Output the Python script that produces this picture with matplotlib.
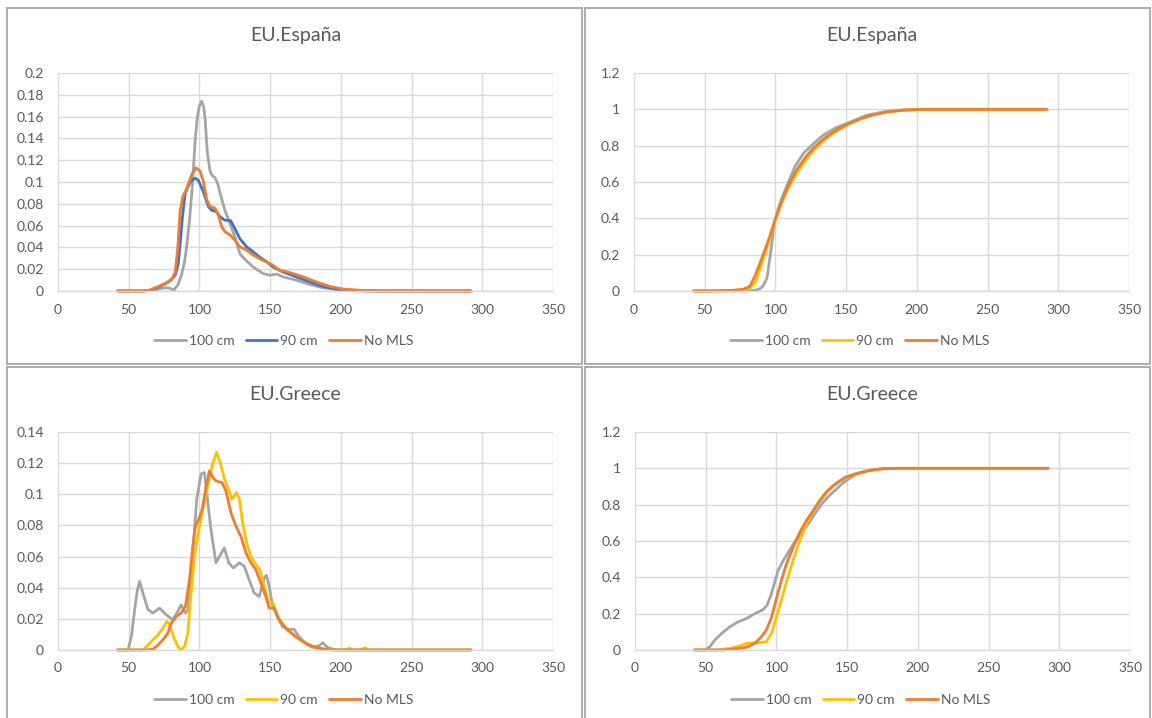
import matplotlib
matplotlib.use("Agg")
import matplotlib.pyplot as plt
from matplotlib.patches import Rectangle
from matplotlib.ticker import MultipleLocator, FuncFormatter

# ---------------- data ----------------
series_names = ["100 cm", "90 cm", "No MLS"]
x_ticks = [0, 50, 100, 150, 200, 250, 300, 350]
titles = ["EU.España", "EU.España", "EU.Greece", "EU.Greece"]

# EU.España – density
es_pdf_100 = [(42, 0), (60, 0), (68, 0.001), (72, 0.002), (76, 0.003), (79, 0.0025), (82, 0.001),
              (85, 0.006), (87.6, 0.016), (89.5, 0.027), (91, 0.041), (93, 0.065), (94.6, 0.09),
              (96, 0.117), (97, 0.139), (98.6, 0.16), (100, 0.17), (101.6, 0.174), (103, 0.169),
              (104, 0.158), (105.6, 0.127), (107.5, 0.11), (109, 0.106), (111, 0.104), (113, 0.098),
              (114.6, 0.09), (118, 0.074), (121.6, 0.062), (125, 0.05), (128.6, 0.034), (133, 0.028),
              (138, 0.022), (145, 0.016), (150, 0.0145), (154.5, 0.0155), (159, 0.013), (168.5, 0.010),
              (178, 0.006), (187, 0.003), (199, 0.001), (215, 0.0002), (292, 0)]
es_pdf_90 = [(42, 0), (60, 0), (65, 0.0005), (70, 0.003), (75, 0.006), (80, 0.01), (83, 0.015),
             (85, 0.025), (86.5, 0.045), (88, 0.068), (90, 0.09), (93.4, 0.1), (97, 0.1035),
             (99.3, 0.1015), (102.8, 0.091), (106.3, 0.0775), (108.7, 0.074), (111.7, 0.073),
             (114.6, 0.068), (118, 0.065), (122, 0.0646), (125, 0.0575), (128.6, 0.048),
             (133.3, 0.0406), (138, 0.036), (142.7, 0.031), (147.4, 0.027), (152, 0.022),
             (159, 0.0175), (168.5, 0.013), (178, 0.0083), (187, 0.0043), (196.7, 0.0018),
             (206, 0.0005), (220, 0), (292, 0)]
es_pdf_nomls = [(42, 0), (60, 0), (64, 0.0005), (70, 0.0037), (75.8, 0.0068), (80.5, 0.011),
                (82.9, 0.0175), (84.7, 0.04), (86.4, 0.074), (88.3, 0.0868), (91, 0.094),
                (94.6, 0.107), (97.7, 0.113), (100.5, 0.11), (102.8, 0.1006), (105.2, 0.0837),
                (107.5, 0.0775), (111, 0.076), (113.4, 0.0698), (115.7, 0.059), (118, 0.0545),
                (121.6, 0.0514), (125, 0.0468), (128.6, 0.0406), (133.3, 0.0375), (138, 0.033),
                (145, 0.028), (152, 0.0237), (156.8, 0.019), (163.8, 0.017), (173.2, 0.013),
                (182.6, 0.0083), (192, 0.0043), (201.5, 0.0018), (215.5, 0.0005), (230, 0), (292, 0)]

# EU.España – cumulative
es_cdf_100 = [(42, 0), (80, 0.001), (86, 0.004), (89, 0.012), (91.5, 0.03), (94.1, 0.073),
              (96.5, 0.207), (99.3, 0.372), (101.9, 0.45), (104.5, 0.51), (107.8, 0.573),
              (113.7, 0.683), (119.6, 0.756), (126.7, 0.81), (133.7, 0.857), (143, 0.9),
              (150, 0.921), (164.4, 0.967), (178.5, 0.989), (192.7, 0.998), (210, 1.0), (292, 1.0)]
es_cdf_90 = [(42, 0), (60, 0.001), (70, 0.003), (77, 0.007), (82, 0.018), (86, 0.05), (89, 0.12),
             (92.5, 0.2), (96, 0.29), (100, 0.39), (104.2, 0.48), (109, 0.565), (114.9, 0.645),
             (120.8, 0.715), (126.7, 0.772), (133.7, 0.826), (140.8, 0.868), (150.2, 0.912),
             (159.7, 0.945), (169, 0.969), (178.5, 0.985), (190, 0.995), (205, 1.0), (292, 1.0)]
es_cdf_nomls = [(42, 0), (60, 0.001), (70, 0.004), (77, 0.009), (81.8, 0.025), (85.4, 0.08),
                (88.9, 0.15), (92.5, 0.225), (96, 0.3), (100, 0.4), (104.2, 0.49), (109, 0.58),
                (114.9, 0.665), (120.8, 0.732), (126.7, 0.786), (133.7, 0.835), (140.8, 0.875),
                (150.2, 0.916), (159.7, 0.947), (169, 0.97), (178.5, 0.985), (190, 0.995),
                (205, 1.0), (292, 1.0)]

# EU.Greece – density
gr_pdf_100 = [(42, 0), (49.5, 0), (51.9, 0.0086), (54.2, 0.026), (56, 0.038), (57.7, 0.044),
              (60, 0.0366), (63.6, 0.026), (67.1, 0.0237), (71.8, 0.0269), (76.5, 0.0226),
              (81.2, 0.0194), (84.7, 0.0247), (87.1, 0.029), (90.1, 0.0237), (92, 0.026),
              (95.3, 0.062), (98.1, 0.097), (101.2, 0.113), (103.5, 0.114), (105.4, 0.099),
              (108.2, 0.077), (111.7, 0.056), (114.1, 0.06), (117.6, 0.0656), (120.7, 0.056),
              (124, 0.0527), (128.2, 0.056), (131.7, 0.0538), (135.2, 0.045), (138.7, 0.0366),
              (142.3, 0.0344), (145.8, 0.0462), (147.4, 0.048), (149.3, 0.041), (151.6, 0.029),
              (155.2, 0.0215), (158.7, 0.015), (163.4, 0.0133), (166.9, 0.0133), (170.4, 0.0086),
              (175.1, 0.0043), (179.8, 0.0017), (184.5, 0.0026), (187.3, 0.0047), (190.4, 0.0017),
              (196.2, 0), (292, 0)]
gr_pdf_90 = [(42, 0), (60, 0), (63.6, 0.0032), (67.1, 0.0065), (70.7, 0.0097), (74.2, 0.014),
             (77, 0.0183), (78.9, 0.016), (81.7, 0.0086), (84.7, 0.0022), (87.1, 0), (89.4, 0.002),
             (91.8, 0.0108), (94.1, 0.0366), (96.5, 0.06), (99.5, 0.077), (102.3, 0.09),
             (105.9, 0.105), (109.4, 0.12), (112.2, 0.127), (114.8, 0.12), (117.6, 0.11),
             (120.7, 0.103), (123, 0.097), (126.3, 0.101), (128.2, 0.097), (130.5, 0.082),
             (133.3, 0.069), (136.4, 0.06), (139.9, 0.055), (142.7, 0.0516), (145.8, 0.041),
             (148.8, 0.031), (152.1, 0.03), (155.2, 0.0215), (161, 0.014), (168, 0.0086),
             (177.5, 0.0032), (187, 0.0004), (200, 0), (203, 0), (206, 0.0012), (209, 0),
             (214, 0), (217, 0.0015), (220, 0), (292, 0)]
gr_pdf_nomls = [(42, 0), (62.4, 0), (67.1, 0.0005), (70.7, 0.0032), (74.2, 0.0065), (77.7, 0.0108),
                (80, 0.0172), (83.6, 0.0215), (87.1, 0.0237), (90.1, 0.028), (93, 0.045),
                (95.3, 0.0667), (97.2, 0.0796), (99.5, 0.084), (101.9, 0.09), (104.7, 0.105),
                (107, 0.115), (109.4, 0.111), (111.7, 0.1086), (116, 0.1075), (118.8, 0.102),
                (122.3, 0.088), (125.8, 0.0796), (129.3, 0.073), (132.9, 0.0624), (136.4, 0.056),
                (139.9, 0.0516), (143.4, 0.043), (146.9, 0.0344), (149.3, 0.0269), (152.8, 0.0269),
                (156.3, 0.0194), (161, 0.014), (168, 0.0086), (175.1, 0.0043), (182.2, 0.0015),
                (191.5, 0.0002), (200, 0), (292, 0)]

# EU.Greece – cumulative
gr_cdf_100 = [(42, 0), (49.4, 0), (52.9, 0.018), (56.5, 0.055), (61.2, 0.091), (67.1, 0.128),
              (72.9, 0.155), (78.8, 0.173), (84.7, 0.2), (90.6, 0.223), (93.4, 0.246), (96.5, 0.31),
              (98.8, 0.374), (101.2, 0.438), (104.7, 0.49), (109.4, 0.55), (114.1, 0.608),
              (118.8, 0.655), (123.5, 0.705), (128.2, 0.762), (132.9, 0.812), (137.6, 0.852),
              (142.4, 0.885), (147.1, 0.92), (151.8, 0.945), (156.5, 0.968), (165.9, 0.988),
              (175.3, 0.998), (185, 1.0), (292, 1.0)]
gr_cdf_90 = [(42, 0), (57.6, 0), (67.1, 0.009), (74.1, 0.022), (78.8, 0.036), (83.5, 0.04),
             (88.2, 0.04), (92.9, 0.046), (96.5, 0.091), (100, 0.18), (103.5, 0.274), (107.1, 0.374),
             (111.8, 0.493), (116.5, 0.602), (121.2, 0.693), (125.9, 0.766), (130.6, 0.825),
             (135.3, 0.872), (140, 0.905), (144.7, 0.93), (149.4, 0.953), (156.5, 0.971),
             (165.9, 0.989), (175.3, 0.998), (185, 1.0), (292, 1.0)]
gr_cdf_nomls = [(42, 0), (62.4, 0), (69.4, 0.005), (78.8, 0.015), (84.7, 0.036), (89.4, 0.073),
                (92.9, 0.11), (96.5, 0.18), (100, 0.283), (103.5, 0.383), (107.1, 0.474),
                (111.8, 0.566), (116.5, 0.648), (121.2, 0.712), (125.9, 0.766), (130.6, 0.82),
                (135.3, 0.867), (140, 0.903), (144.7, 0.93), (149.4, 0.953), (156.5, 0.971),
                (165.9, 0.989), (175.3, 0.998), (185, 1.0), (292, 1.0)]

# ---------------- style ----------------
GRAY, BLUE, ORANGE, YELLOW = "#A5A5A5", "#4472C4", "#ED7D31", "#FFC000"
TXT = "#595959"
GRID = "#D9D9D9"
FONT = "Lato"
plt.rcParams["font.family"] = [FONT, "DejaVu Sans"]

W, H = 1152, 718
fig = plt.figure(figsize=(W / 100, H / 100), dpi=100)
fig.patch.set_facecolor("white")


def fbox(l, t, r, b):
    return [l / W, 1 - b / H, (r - l) / W, (b - t) / H]


# panel frames
for (l, t, r, b) in [(7, 8, 582, 364), (585, 8, 1150, 364), (7, 367, 582, 722), (585, 367, 1150, 722)]:
    fig.patches.append(Rectangle((l / W, 1 - b / H), (r - l) / W, (b - t) / H,
                                 transform=fig.transFigure, fill=False,
                                 edgecolor="#A6A6A6", linewidth=1.3, zorder=0))

panels = [
    dict(box=(58, 73, 553, 291), ymax=0.2, ystep=0.02, title=titles[0], title_y=35,
         series=[es_pdf_100, es_pdf_90, es_pdf_nomls], colors=[GRAY, BLUE, ORANGE], leg_y=341),
    dict(box=(634, 73, 1129, 291), ymax=1.2, ystep=0.2, title=titles[1], title_y=35,
         series=[es_cdf_100, es_cdf_90, es_cdf_nomls], colors=[GRAY, YELLOW, ORANGE], leg_y=341),
    dict(box=(58, 432, 553, 650), ymax=0.14, ystep=0.02, title=titles[2], title_y=394,
         series=[gr_pdf_100, gr_pdf_90, gr_pdf_nomls], colors=[GRAY, YELLOW, ORANGE], leg_y=700),
    dict(box=(635, 432, 1130, 650), ymax=1.2, ystep=0.2, title=titles[3], title_y=394,
         series=[gr_cdf_100, gr_cdf_90, gr_cdf_nomls], colors=[GRAY, YELLOW, ORANGE], leg_y=700),
]

fmt = FuncFormatter(lambda v, p: "{:g}".format(round(v, 4)))

for pan in panels:
    l, t, r, b = pan["box"]
    ax = fig.add_axes(fbox(l, t, r, b))
    ax.set_xlim(0, 350)
    ax.set_ylim(0, pan["ymax"])
    ax.set_xticks(x_ticks)
    ax.yaxis.set_major_locator(MultipleLocator(pan["ystep"]))
    ax.yaxis.set_major_formatter(fmt)
    ax.xaxis.set_major_formatter(fmt)
    ax.grid(True, color=GRID, linewidth=1.0)
    ax.set_axisbelow(True)
    for s in ["top", "right", "left"]:
        ax.spines[s].set_visible(False)
    ax.spines["bottom"].set_color(GRID)
    ax.spines["bottom"].set_linewidth(1.0)
    ax.tick_params(length=0, labelsize=10, labelcolor=TXT, pad=9)
    ax.tick_params(axis="y", pad=10)
    handles = []
    for data, col, name in zip(pan["series"], pan["colors"], series_names):
        xs = [p[0] for p in data]
        ys = [p[1] for p in data]
        h, = ax.plot(xs, ys, color=col, linewidth=2.0, label=name,
                     solid_joinstyle="round", solid_capstyle="round", clip_on=False)
        handles.append(h)
    cx = (l + r) / 2 / W
    fig.text(cx - 10 / W, 1 - pan["title_y"] / H, pan["title"], ha="center", va="center",
             fontsize=14, color=TXT)
    fig.legend(handles=handles, loc="center", bbox_to_anchor=(cx - 22 / W, 1 - pan["leg_y"] / H),
               ncol=3, frameon=False, fontsize=10, labelcolor=TXT, handlelength=2.3,
               handletextpad=0.2, columnspacing=0.8)

fig.savefig("out.png", dpi=100, facecolor="white")
